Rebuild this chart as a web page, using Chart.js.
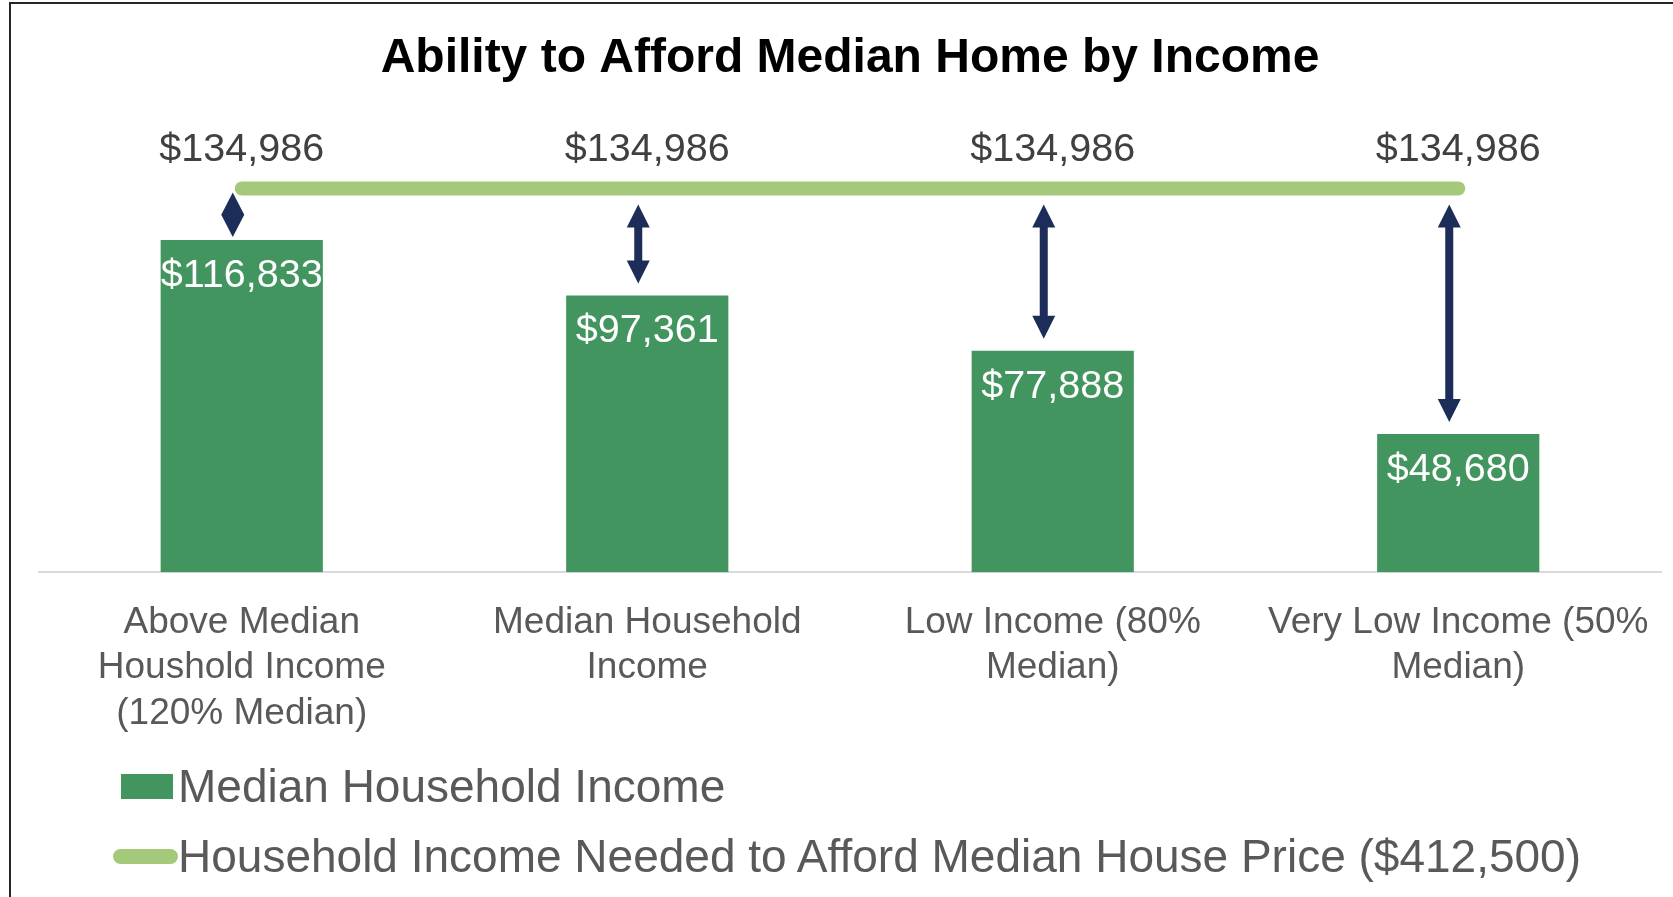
<!DOCTYPE html>
<html>
<head>
<meta charset="utf-8">
<script src="https://cdn.jsdelivr.net/npm/chart.js@4.4.1/dist/chart.umd.min.js"></script>
<style>
  html, body { margin: 0; padding: 0; background: #fff; overflow: hidden; }
  #marco { position: absolute; left: 9px; top: 2px; width: 1700px; height: 1000px;
           border-left: 2px solid #262626; border-top: 2px solid #262626; }
  #contenedor { position: absolute; left: 0; top: 0; width: 1673px; height: 764px; }
  #leyenda { position: absolute; left: 0; top: 0; width: 1673px; height: 897px; pointer-events: none; }
  .item { position: absolute; left: 0; height: 60px; display: flex; align-items: center;
          font-family: "Liberation Sans", Arial, sans-serif; font-size: 46px; color: #595959; white-space: nowrap; }
  .muestra { display: inline-block; }
</style>
</head>
<body>
<div id="marco"></div>
<div id="contenedor"><canvas id="grafico"></canvas></div>
<div id="leyenda"></div>
<script>
// datos
const categorias = [
  ['Above Median', 'Houshold Income', '(120% Median)'],
  ['Median Household', 'Income'],
  ['Low Income (80%', 'Median)'],
  ['Very Low Income (50%', 'Median)']
];
const ingresoMediano = [116833, 97361, 77888, 48680];
const ingresoNecesario = [134986, 134986, 134986, 134986];
const etiquetaBarras = 'Median Household Income';
const etiquetaLinea = 'Household Income Needed to Afford Median House Price ($412,500)';

const verdeBarra = '#43955f';
const verdeLinea = '#a4c97b';
const azulFlecha = '#1b2d58';

function formatoDinero(v) {
  return '$' + v.toLocaleString('en-US');
}

// flechas dobles entre la linea y cada barra
function dibujarFlecha(ctx, x, y1, y2) {
  const medio = 11.5, largo = 23, eje = 4;
  ctx.beginPath();
  if (y2 - y1 < largo * 2) {
    const ym = (y1 + y2) / 2;
    ctx.moveTo(x, y1);
    ctx.lineTo(x + medio, ym);
    ctx.lineTo(x, y2);
    ctx.lineTo(x - medio, ym);
  } else {
    ctx.moveTo(x, y1);
    ctx.lineTo(x + medio, y1 + largo);
    ctx.lineTo(x + eje, y1 + largo);
    ctx.lineTo(x + eje, y2 - largo);
    ctx.lineTo(x + medio, y2 - largo);
    ctx.lineTo(x, y2);
    ctx.lineTo(x - medio, y2 - largo);
    ctx.lineTo(x - eje, y2 - largo);
    ctx.lineTo(x - eje, y1 + largo);
    ctx.lineTo(x - medio, y1 + largo);
  }
  ctx.closePath();
  ctx.fill();
}

const etiquetasPlugin = {
  id: 'etiquetas',
  afterDatasetsDraw(chart) {
    const ctx = chart.ctx;
    const barras = chart.getDatasetMeta(0).data;
    const puntos = chart.getDatasetMeta(1).data;
    ctx.save();
    ctx.font = '39.5px "Liberation Sans", Arial, sans-serif';
    ctx.textAlign = 'center';
    ctx.textBaseline = 'middle';
    barras.forEach((b, i) => {
      ctx.fillStyle = '#ffffff';
      ctx.fillText(formatoDinero(ingresoMediano[i]), b.x, b.y + 36);
    });
    puntos.forEach((p, i) => {
      ctx.fillStyle = '#404040';
      ctx.fillText(formatoDinero(ingresoNecesario[i]), barras[i].x, p.y - 38);
    });
    ctx.fillStyle = azulFlecha;
    barras.forEach((b, i) => {
      const yLinea = puntos[i].y;
      const espacio = b.y - yLinea;
      const gArriba = Math.max(4, Math.min(16, (espacio - 46) / 2));
      const gAbajo = Math.max(3, Math.min(12, (espacio - 46) / 2));
      dibujarFlecha(ctx, b.x - 9, yLinea + gArriba, b.y - gAbajo);
    });
    ctx.restore();
  }
};

const ctx = document.getElementById('grafico').getContext('2d');
const grafico = new Chart(ctx, {
  data: {
    labels: categorias,
    datasets: [
      {
        type: 'bar',
        label: etiquetaBarras,
        data: ingresoMediano,
        backgroundColor: verdeBarra,
        barPercentage: 0.4,
        categoryPercentage: 1,
        order: 2
      },
      {
        type: 'line',
        label: etiquetaLinea,
        data: ingresoNecesario,
        borderColor: verdeLinea,
        borderWidth: 14,
        borderCapStyle: 'round',
        pointRadius: 0,
        fill: false,
        order: 1
      }
    ]
  },
  options: {
    responsive: true,
    maintainAspectRatio: false,
    animation: false,
    layout: { padding: { left: 39, right: 12, top: 0, bottom: 0 } },
    plugins: {
      legend: { display: false },
      tooltip: { enabled: false },
      title: {
        display: true,
        text: 'Ability to Afford Median Home by Income',
        color: '#000000',
        font: { family: '"Liberation Sans", Arial, sans-serif', size: 48, weight: 'bold' },
        padding: { top: 30, bottom: 29.7 }
      }
    },
    scales: {
      x: {
        offset: true,
        grid: { display: false, drawTicks: false },
        border: { display: true, color: '#d9d9d9', width: 2 },
        ticks: {
          color: '#595959',
          padding: 27,
          maxRotation: 0,
          autoSkip: false,
          font: { family: '"Liberation Sans", Arial, sans-serif', size: 37, lineHeight: 1.24 }
        },
        // las etiquetas caben en su categoria, no hace falta margen extra
        afterFit(scale) {
          scale.paddingLeft = 0;
          scale.paddingRight = 0;
        }
      },
      y: {
        display: false,
        min: 0,
        max: 160000
      }
    }
  },
  plugins: [etiquetasPlugin]
});

// leyenda hecha a mano, en dos filas
const leyenda = document.getElementById('leyenda');
const filas = [786, 856];
grafico.data.datasets.forEach((ds, i) => {
  const item = document.createElement('div');
  item.className = 'item';
  item.style.top = (filas[i] - 30) + 'px';
  const muestra = document.createElement('span');
  muestra.className = 'muestra';
  if (ds.type === 'bar') {
    muestra.style.cssText = 'width:52px;height:25px;margin-left:121px;margin-right:5px;background:' + ds.backgroundColor;
  } else {
    muestra.style.cssText = 'width:65px;height:15px;border-radius:8px;margin-left:113px;background:' + ds.borderColor;
  }
  const texto = document.createElement('span');
  texto.textContent = ds.label;
  item.appendChild(muestra);
  item.appendChild(texto);
  leyenda.appendChild(item);
});
</script>
</body>
</html>
